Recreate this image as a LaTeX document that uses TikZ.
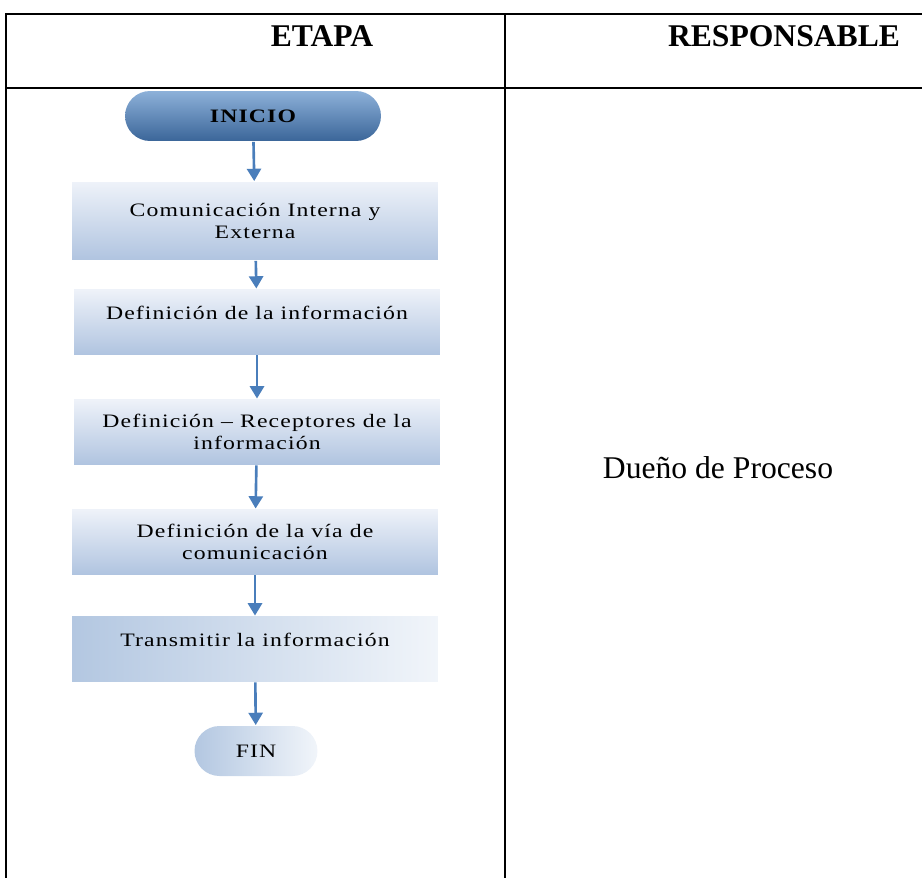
\documentclass[tikz,border=0pt]{standalone}
\usepackage{fontspec}
\setmainfont{Liberation Serif}
\newfontfamily\boxfont[FakeStretch=1.25, LetterSpace=6]{Liberation Serif}
\usetikzlibrary{arrows.meta}
\definecolor{flowBlue}{HTML}{4A7EBB}
\definecolor{startTop}{HTML}{8DB1D9}
\definecolor{startMid}{HTML}{5585C0}
\definecolor{startBot}{HTML}{3B6699}
\definecolor{boxTop}{HTML}{EEF2F9}
\definecolor{boxBot}{HTML}{B0C4E0}
\definecolor{endDark}{HTML}{B3C7E1}
\definecolor{endLight}{HTML}{F1F5FA}
\newcommand{\boxtext}{\boxfont\fontsize{10.8}{12.4}\selectfont}

\begin{document}
\begin{tikzpicture}[x=0.02cm, y=-0.02cm, ->, >={Triangle[width=8pt,length=7pt]}, line width=1.1pt]
        \tikzset{
           grid/.style={
                        -,
                        draw=black,
                        line width=1.1pt
                       },
           header/.style={
                        font=\fontsize{18}{21}\selectfont\bfseries,
                        text=black
                       },
           startNode/.style={
                        rectangle,
                        rounded corners=0.5cm,
                        minimum width=5.12cm,
                        minimum height=1cm,
                        top color=startTop,
                        middle color=startMid,
                        bottom color=startBot,
                        draw=none,
                        font=\boxtext\bfseries,
                        text=black
                       },
           procBox/.style={
                        rectangle,
                        minimum width=7.32cm,
                        minimum height=1.3cm,
                        top color=boxTop,
                        bottom color=boxBot,
                        draw=none,
                        align=center,
                        font=\boxtext,
                        text=black
                       },
           highText/.style={
                        text depth=0.36cm
                       },
           sideBox/.style={
                        procBox,
                        left color=endDark,
                        right color=endLight
                       },
           endNode/.style={
                        startNode,
                        minimum width=2.46cm,
                        left color=endDark,
                        right color=endLight,
                        font=\boxtext
                       },
           flow/.style={
                        color=flowBlue,
                        line width=1.5pt
                       },
                 };
    %--------------------
        \useasboundingbox (0,0) rectangle (922,878);
        \draw[grid] (922,14) -- (6,14) -- (6,878);
        \draw[grid] (6,88) -- (922,88);
        \draw[grid] (505,14) -- (505,878);

        \node[header]    (etapa)   at (322,36)  {ETAPA};
        \node[header]    (resp)    at (784,36)  {RESPONSABLE};
        \node[font=\fontsize{18}{21}\selectfont] (dueno) at (718,468) {Dueño de Proceso};

        \node[startNode] (inicio)  at (253,116) {INICIO};
        \node[procBox, minimum height=1.56cm]
                         (comInt)  at (255,221) {Comunicación Interna y\\Externa};
        \node[procBox, highText]
                         (defInfo) at (257,322) {Definición de la información};
        \node[procBox]   (defRec)  at (257,432) {Definición – Receptores de la\\información};
        \node[procBox]   (defVia)  at (255,542) {Definición de la vía de\\comunicación};
        \node[sideBox, highText]
                         (transm)  at (255,649) {Transmitir la información};
        \node[endNode]   (fin)     at (256,751) {FIN};
    %--------------------
        \path[flow] (inicio)  edge (comInt)
                    (comInt)  edge (defInfo)
                    (defInfo) edge (defRec)
                    (defRec)  edge (defVia)
                    (defVia)  edge (transm)
                    (transm)  edge (fin);
    \end{tikzpicture}
\end{document}
